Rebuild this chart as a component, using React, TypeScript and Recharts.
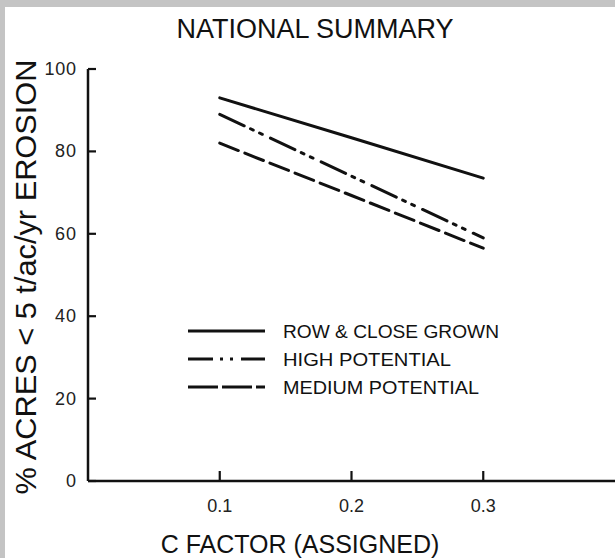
import React from 'react';
import { LineChart, Line, XAxis, YAxis, Legend } from 'recharts';

// values
const cFactor = [0.1, 0.2, 0.3];
const rowCloseGrown = [93, 83.3, 73.5];
const highPotential = [89, 74, 59];
const mediumPotential = [82, 69.3, 56.5];

const xTicks = [0.1, 0.2, 0.3];
const yTicks = [0, 20, 40, 60, 80, 100];

const series = [
  { key: 'row', name: 'ROW & CLOSE GROWN', dash: undefined, legendDash: undefined, textLen: 216 },
  { key: 'high', name: 'HIGH POTENTIAL', dash: '27 7 3 7 3 9', legendDash: '25 7 3 7 3 8 24', textLen: 168 },
  { key: 'medium', name: 'MEDIUM POTENTIAL', dash: '20 7', legendDash: '30 4 30 4 9', textLen: 196 },
];

const data = cFactor.map((c, i) => ({
  c,
  row: rowCloseGrown[i],
  high: highPotential[i],
  medium: mediumPotential[i],
}));

const FONT = '"Liberation Sans", Arial, Helvetica, sans-serif';
const INK = '#111';
const tickText = { fontSize: 18, fontFamily: FONT, fill: '#222' };

const YTick = (props: any) => {
  const { x, y, payload } = props;
  return (
    <g>
      <line x1={x} x2={x + 8} y1={y} y2={y} stroke={INK} strokeWidth={2.2} />
      <text x={x - 12} y={y + 6} textAnchor="end" style={tickText} textLength={String(payload.value).length * 10.5}>
        {payload.value}
      </text>
    </g>
  );
};

const XTick = (props: any) => {
  const { x, y, payload } = props;
  return (
    <g>
      <line x1={x} x2={x} y1={y} y2={y - 10} stroke={INK} strokeWidth={2.2} />
      <text x={x} y={y + 31} textAnchor="middle" style={tickText}>
        {payload.value}
      </text>
    </g>
  );
};

const LegendBox = () => (
  <svg width={330} height={90}>
    {series.map((s, i) => {
      const y = 13 + i * 28;
      return (
        <g key={s.key}>
          <line x1={3} x2={80} y1={y} y2={y} stroke={INK} strokeWidth={3.2} strokeDasharray={s.legendDash} />
          <text
            x={98}
            y={y + 7}
            fontSize={18}
            fontFamily={FONT}
            fill={INK}
            textLength={s.textLen}
            lengthAdjust="spacingAndGlyphs"
          >
            {s.name}
          </text>
        </g>
      );
    })}
  </svg>
);

export default function App() {
  return (
    <div style={{ position: 'absolute', left: 0, top: 0, width: 615, height: 558, background: '#c4c4c4' }}>
      <div style={{ position: 'absolute', left: 5, top: 7, width: 610, height: 551, background: '#fff' }} />
      <div style={{ position: 'absolute', left: 0, top: 0 }}>
        <LineChart width={615} height={558} data={data} margin={{ top: 69, right: 0, bottom: 0, left: 0 }}>
          <XAxis
            dataKey="c"
            type="number"
            domain={[0, 0.4]}
            ticks={xTicks}
            interval={0}
            height={77}
            tickSize={0}
            tickMargin={0}
            tickLine={false}
            axisLine={{ stroke: INK, strokeWidth: 2.5 }}
            tick={<XTick />}
          />
          <YAxis
            type="number"
            domain={[0, 100]}
            ticks={yTicks}
            interval={0}
            width={88}
            tickSize={0}
            tickMargin={0}
            tickLine={false}
            axisLine={{ stroke: INK, strokeWidth: 2.5 }}
            tick={<YTick />}
          />
          <Legend
            layout="horizontal"
            verticalAlign="middle"
            align="center"
            content={() => <LegendBox />}
            wrapperStyle={{ position: 'absolute', left: 185, top: 318, width: 330, height: 90 }}
          />
          {series.map((s) => (
            <Line
              key={s.key}
              dataKey={s.key}
              name={s.name}
              type="linear"
              stroke={INK}
              strokeWidth={3}
              strokeDasharray={s.dash}
              strokeLinecap="round"
              dot={false}
              activeDot={false}
              isAnimationActive={false}
            />
          ))}
        </LineChart>
      </div>
      <svg
        width={615}
        height={558}
        style={{ position: 'absolute', left: 0, top: 0, pointerEvents: 'none' }}
      >
        <text x={315} y={38} textAnchor="middle" fontSize={27} fontFamily={FONT} fill={INK}>
          NATIONAL SUMMARY
        </text>
        <text x={300} y={553} textAnchor="middle" fontSize={25} fontFamily={FONT} fill={INK}>
          C FACTOR (ASSIGNED)
        </text>
        <text
          transform="translate(36, 277) rotate(-90)"
          textAnchor="middle"
          fontSize={29}
          fontFamily={FONT}
          fill={INK}
          textLength={435}
          lengthAdjust="spacingAndGlyphs"
        >
          % ACRES &lt; 5 t/ac/yr EROSION
        </text>
      </svg>
    </div>
  );
}
